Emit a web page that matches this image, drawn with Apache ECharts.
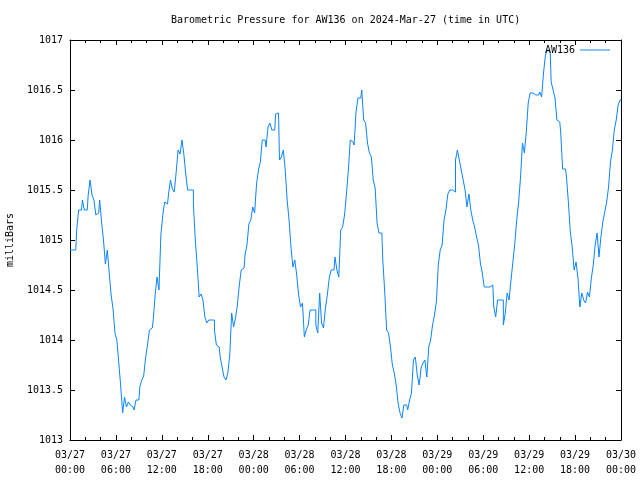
<!DOCTYPE html>
<html>
<head>
<meta charset="utf-8">
<script src="https://cdn.jsdelivr.net/npm/echarts@6/dist/echarts.min.js"></script>
<style>html,body{margin:0;padding:0;background:#fff;}#c{width:640px;height:480px;}</style>
</head>
<body>
<div id="c"></div>
<script>
var titleText = 'Barometric Pressure for AW136 on 2024-Mar-27 (time in UTC)';
var seriesName = 'AW136';
var yAxisName = 'milliBars';
var stepMinutes = 15; // sampling interval of readings below, starting 03/27 00:00 UTC
var tickLabels = ['03/27\n00:00','03/27\n06:00','03/27\n12:00','03/27\n18:00','03/28\n00:00','03/28\n06:00','03/28\n12:00','03/28\n18:00','03/29\n00:00','03/29\n06:00','03/29\n12:00','03/29\n18:00','03/30\n00:00'];
var pressure = [
1014.9,1014.9,1014.9,1014.9,1015.1,1015.3,1015.3,1015.4,1015.3,1015.3,1015.45,1015.6,
1015.45,1015.4,1015.25,1015.27,1015.4,1015.18,1015.0,1014.76,1014.9,1014.67,1014.45,1014.31,
1014.07,1014.0,1013.77,1013.54,1013.27,1013.43,1013.33,1013.38,1013.35,1013.33,1013.3,1013.4,
1013.4,1013.53,1013.6,1013.64,1013.82,1013.95,1014.1,1014.12,1014.2,1014.45,1014.63,1014.5,
1015.05,1015.25,1015.38,1015.36,1015.46,1015.6,1015.51,1015.48,1015.68,1015.9,1015.86,1016.0,
1015.86,1015.66,1015.5,1015.5,1015.5,1015.35,1015.0,1014.74,1014.43,1014.46,1014.4,1014.23,
1014.17,1014.2,1014.2,1014.2,1014.1,1013.95,1013.93,1013.83,1013.73,1013.63,1013.6,1013.67,
1013.85,1014.27,1014.13,1014.22,1014.35,1014.55,1014.7,1014.72,1014.85,1014.95,1015.16,1015.2,
1015.33,1015.27,1015.56,1015.7,1015.78,1016.0,1016.0,1015.93,1016.13,1016.17,1016.1,1016.1,
1016.26,1016.27,1015.8,1015.83,1015.9,1015.7,1015.4,1015.2,1014.93,1014.73,1014.8,1014.65,
1014.45,1014.33,1014.37,1014.03,1014.1,1014.15,1014.3,1014.3,1014.3,1014.15,1014.07,1014.47,
1014.17,1014.12,1014.32,1014.45,1014.62,1014.7,1014.7,1014.83,1014.7,1014.63,1015.1,1015.13,
1015.25,1015.46,1015.7,1016.0,1015.98,1015.95,1016.28,1016.42,1016.42,1016.5,1016.2,1016.17,
1015.97,1015.87,1015.83,1015.6,1015.52,1015.17,1015.07,1015.07,1014.8,1014.48,1014.1,1014.07,
1013.93,1013.75,1013.67,1013.55,1013.37,1013.27,1013.22,1013.35,1013.35,1013.3,1013.4,1013.47,
1013.8,1013.83,1013.65,1013.55,1013.72,1013.77,1013.8,1013.63,1013.93,1014.0,1014.15,1014.25,
1014.38,1014.75,1014.9,1014.95,1015.2,1015.3,1015.46,1015.5,1015.5,1015.48,1015.8,1015.9,
1015.8,1015.7,1015.6,1015.5,1015.33,1015.46,1015.3,1015.2,1015.13,1015.03,1014.95,1014.77,
1014.67,1014.53,1014.53,1014.53,1014.55,1014.55,1014.33,1014.23,1014.4,1014.4,1014.4,1014.15,
1014.27,1014.47,1014.4,1014.6,1014.78,1014.97,1015.2,1015.38,1015.63,1015.97,1015.87,1016.08,
1016.37,1016.47,1016.47,1016.45,1016.47,1016.45,1016.48,1016.43,1016.67,1016.85,1016.9,1016.88,
1016.58,1016.5,1016.42,1016.2,1016.18,1016.07,1015.71,1015.71,1015.63,1015.38,1015.08,1014.93,
1014.7,1014.78,1014.62,1014.33,1014.47,1014.4,1014.37,1014.48,1014.43,1014.62,1014.75,1014.95,
1015.07,1014.83,1015.03,1015.18,1015.28,1015.38,1015.53,1015.78,1015.9,1016.1,1016.2,1016.35,
1016.4
];

var data = pressure.map(function (v, i) { return [i * stepMinutes / 60, v]; });
var FONT = 'DejaVu Sans Mono';
var chart = echarts.init(document.getElementById('c'), null, {renderer: 'canvas'});
var baseX = {
  type: 'value', min: 0, max: 72, interval: 6,
  axisLine: {show: true, onZero: false, lineStyle: {color: '#000', width: 1}},
  axisTick: {show: true, inside: true, length: 5, lineStyle: {color: '#000'}},
  minorTick: {show: true, splitNumber: 3, length: 3, lineStyle: {color: '#000'}},
  splitLine: {show: false}
};
var baseY = {
  type: 'value', min: 1013, max: 1017, interval: 0.5,
  axisLine: {show: true, onZero: false, lineStyle: {color: '#000', width: 1}},
  axisTick: {show: true, inside: true, length: 5, lineStyle: {color: '#000'}},
  splitLine: {show: false}
};
chart.setOption({
  animation: false,
  backgroundColor: '#fff',
  title: {
    text: titleText, left: 171, top: 15, padding: 0,
    textStyle: {fontFamily: FONT, fontSize: 10, fontWeight: 'normal', color: '#000'}
  },
  legend: {
    data: [seriesName], right: 30, top: 45, align: 'right', padding: 0,
    icon: 'rect', itemWidth: 30, itemHeight: 1, itemGap: 5,
    textStyle: {fontFamily: FONT, fontSize: 10, color: '#000'}
  },
  grid: {left: 70, right: 19, top: 40, bottom: 40, containLabel: false, outerBoundsMode: 'none'},
  xAxis: [
    Object.assign({}, baseX, {
      position: 'bottom',
      axisLabel: {
        show: true, margin: 8, lineHeight: 15, color: '#000', fontFamily: FONT, fontSize: 10,
        formatter: function (v) { return tickLabels[Math.round(v / 6)]; }
      }
    }),
    Object.assign({}, baseX, {position: 'top', axisLabel: {show: false}})
  ],
  yAxis: [
    Object.assign({}, baseY, {
      position: 'left',
      name: yAxisName, nameLocation: 'middle', nameGap: 55, nameRotate: 90,
      nameTextStyle: {fontFamily: FONT, fontSize: 10, color: '#000'},
      axisLabel: {
        show: true, margin: 7, color: '#000', fontFamily: FONT, fontSize: 10,
        formatter: function (v) { return String(v); }
      }
    }),
    Object.assign({}, baseY, {position: 'right', axisLabel: {show: false}})
  ],
  series: [{
    name: seriesName, type: 'line', data: data, xAxisIndex: 0, yAxisIndex: 0,
    showSymbol: false, symbol: 'none', step: 'middle',
    lineStyle: {color: '#0a84ff', width: 1}, itemStyle: {color: '#0a84ff'}
  }]
});
</script>
</body>
</html>
